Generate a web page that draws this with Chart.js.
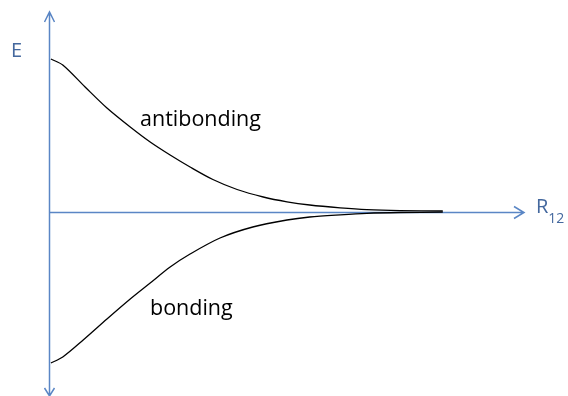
<!DOCTYPE html>
<html>
<head>
<meta charset="utf-8">
<script src="https://cdn.jsdelivr.net/npm/chart.js@4"></script>
<style>
html,body{margin:0;padding:0;background:#fff;}
#wrap{width:568px;height:396px;position:relative;}
</style>
</head>
<body>
<div id="wrap"><canvas id="c" width="568" height="396"></canvas></div>
<script>
// Data (arbitrary units): R12 along x, E along y
const antiR = [0.04, 0.29, 0.76, 1.22, 1.71, 2.13, 2.55, 2.97, 3.45, 3.96, 4.51, 5.01, 5.49, 6.13, 6.69, 7.39, 8.29];
const antiE = [0.765, 0.735, 0.625, 0.52, 0.425, 0.35, 0.285, 0.225, 0.1625, 0.1125, 0.075, 0.051, 0.035, 0.021, 0.012, 0.007, 0.005];
const bondR = [0.04, 0.29, 0.72, 1.22, 1.71, 2.13, 2.55, 2.97, 3.6, 4.29, 5.01, 5.49, 6.13, 6.69, 7.39, 8.29];
const bondE = [-0.755, -0.725, -0.64, -0.535, -0.435, -0.355, -0.275, -0.21, -0.13, -0.075, -0.04, -0.025, -0.014, -0.0065, -0.0025, -0.001];
const labels = {E: "E", R: "R", Rsub: "12", anti: "antibonding", bond: "bonding"};

const toPts = (xs, ys) => xs.map((x, i) => ({x: x, y: ys[i]}));
const axisColor = '#5a86c5';
const textColor = '#44689e';
const fontFam = '"Open Sans", Lato, sans-serif';

const overlay = {
  id: 'overlay',
  beforeDatasetsDraw(chart) {
    const {ctx, scales: {x, y}} = chart;
    const x0 = x.getPixelForValue(0) + 0.5;
    const y0 = Math.round(y.getPixelForValue(0)) + 0.5;
    const top = y.getPixelForValue(y.max);
    const bot = y.getPixelForValue(y.min);
    const right = x.getPixelForValue(x.max);
    ctx.save();
    ctx.strokeStyle = axisColor;
    ctx.lineWidth = 1.5;
    ctx.beginPath();
    ctx.moveTo(x0, top); ctx.lineTo(x0, bot);
    ctx.moveTo(x0, y0); ctx.lineTo(right, y0);
    // arrows
    ctx.moveTo(x0 - 5, top + 10); ctx.lineTo(x0, top); ctx.lineTo(x0 + 5, top + 10);
    ctx.moveTo(x0 - 5, bot - 8); ctx.lineTo(x0, bot); ctx.lineTo(x0 + 5, bot - 8);
    ctx.moveTo(right - 10, y0 - 6); ctx.lineTo(right, y0); ctx.lineTo(right - 10, y0 + 6);
    ctx.stroke();
    ctx.restore();
  },
  afterDatasetsDraw(chart) {
    const {ctx, scales: {x, y}} = chart;
    const y0 = y.getPixelForValue(0);
    ctx.save();
    ctx.textBaseline = 'alphabetic';
    ctx.fillStyle = textColor;
    ctx.font = '20px ' + fontFam;
    ctx.fillText(labels.E, 11, 57);
    ctx.fillText(labels.R, 536, y0 + 1);
    const rw = ctx.measureText(labels.R).width;
    ctx.font = '14px ' + fontFam;
    ctx.fillText(labels.Rsub, 536 + rw, y0 + 11);
    ctx.fillStyle = '#000';
    ctx.font = '21.5px ' + fontFam;
    ctx.fillText(labels.anti, 140, 126);
    ctx.fillText(labels.bond, 150, 315);
    ctx.restore();
  }
};

new Chart(document.getElementById('c'), {
  type: 'scatter',
  data: {
    datasets: [
      {data: toPts(antiR, antiE), showLine: true, borderColor: '#000', borderWidth: 1.3, pointRadius: 0, tension: 0.3, fill: false},
      {data: toPts(bondR, bondE), showLine: true, borderColor: '#000', borderWidth: 1.3, pointRadius: 0, tension: 0.3, fill: false}
    ]
  },
  options: {
    responsive: false,
    animation: false,
    layout: {padding: {left: 49, right: 44, top: 12, bottom: 0}},
    plugins: {legend: {display: false}, tooltip: {enabled: false}},
    scales: {
      x: {type: 'linear', min: 0, max: 10, display: false},
      y: {type: 'linear', min: -0.92, max: 1, display: false}
    }
  },
  plugins: [overlay]
});
</script>
</body>
</html>
